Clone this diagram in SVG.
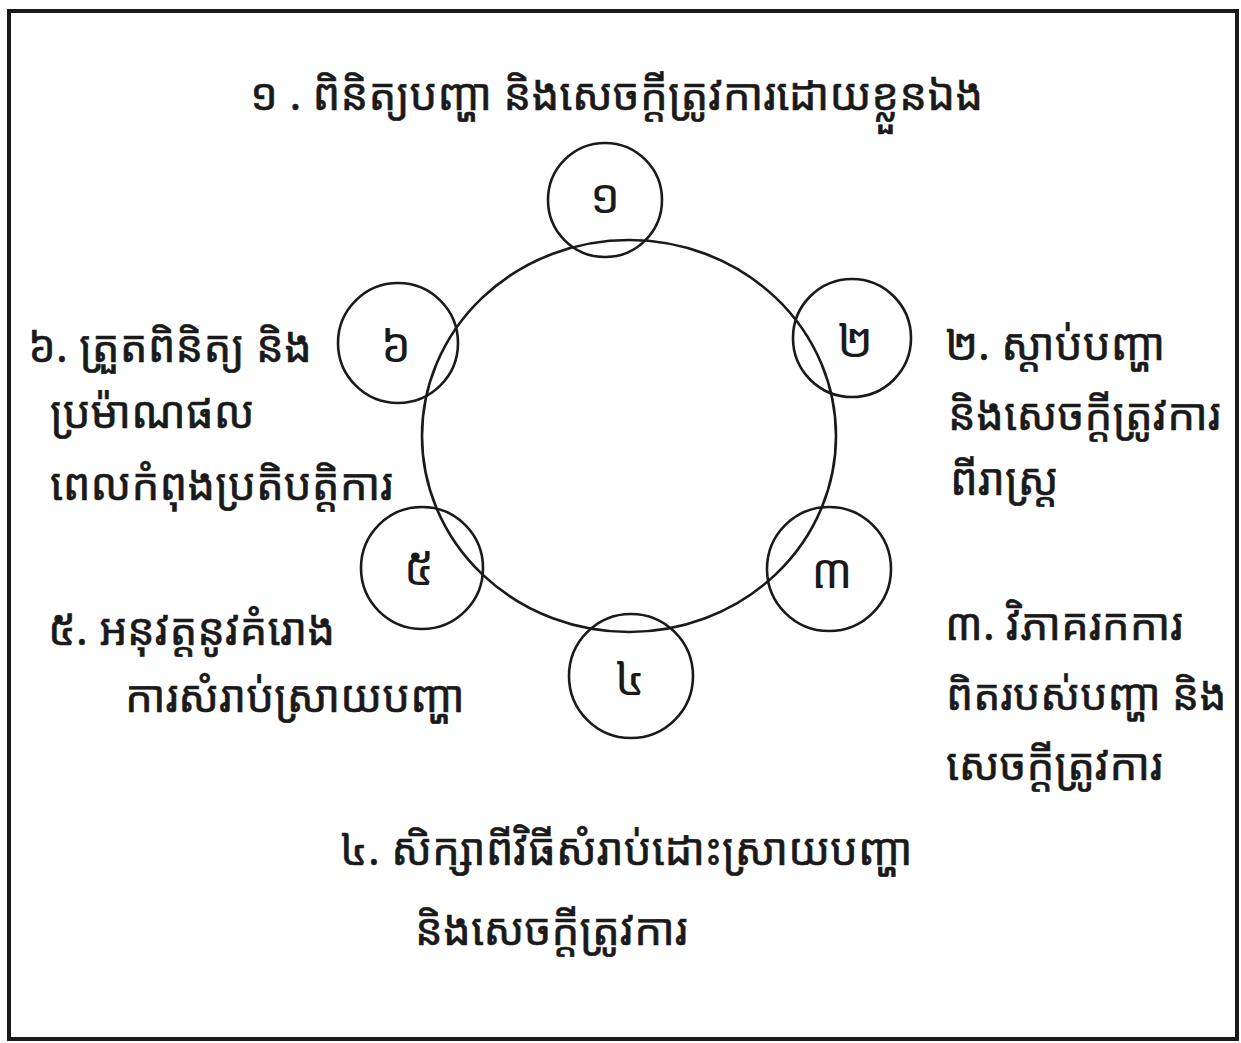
<svg xmlns="http://www.w3.org/2000/svg" width="1241" height="1043" viewBox="0 0 1241 1043">
<style>
.t{font-family:"Noto Sans Khmer","Khmer OS","Noto Serif Khmer","Noto Sans","DejaVu Sans",sans-serif;font-size:44px;fill:#1a1a1a;stroke:#1a1a1a;stroke-width:0.6}
.s{font-size:43px}
.n{font-family:"Noto Sans Khmer","Khmer OS","Noto Sans","DejaVu Sans",sans-serif;font-size:48px;fill:#1a1a1a;text-anchor:middle;dominant-baseline:central}
.c{fill:none;stroke:#1a1a1a;stroke-width:2.6}
</style>
<rect x="0" y="0" width="1241" height="1043" fill="#fff"/>
<rect x="9" y="11" width="1228" height="1028" fill="none" stroke="#1a1a1a" stroke-width="4"/>
<g id="ring"><ellipse class="c" cx="629" cy="436" rx="207" ry="196"/></g>
<g id="node1"><circle class="c" cx="605" cy="200" r="57"/><text class="n" x="605" y="194">១</text></g>
<g id="node2"><circle class="c" cx="852" cy="338" r="59"/><text class="n" x="855" y="338">២</text></g>
<g id="node3"><circle class="c" cx="829" cy="569" r="62"/><text class="n" x="832" y="569">៣</text></g>
<g id="node4"><circle class="c" cx="631" cy="676" r="62"/><text class="n" x="630" y="676">៤</text></g>
<g id="node5"><circle class="c" cx="422" cy="568" r="61"/><text class="n" x="419" y="566">៥</text></g>
<g id="node6"><circle class="c" cx="398" cy="343" r="60"/><text class="n" x="396" y="343">៦</text></g>
<g id="label1"><text class="t" x="250" y="110">១ . ពិនិត្យបញ្ហា និងសេចក្តីត្រូវការដោយខ្លួនឯង</text></g>
<g id="label2"><text class="t" x="945" y="360">២. ស្តាប់បញ្ហា</text><text class="t" x="948" y="430">និងសេចក្តីត្រូវការ</text><text class="t" x="950" y="495">ពីរាស្ត្រ</text></g>
<g id="label3"><text class="t" x="945" y="640">៣. វិភាគរកការ</text><text class="t s" x="946" y="710">ពិតរបស់បញ្ហា និង</text><text class="t" x="946" y="780">សេចក្តីត្រូវការ</text></g>
<g id="label4"><text class="t" x="340" y="865">៤. សិក្សាពីវិធីសំរាប់ដោះស្រាយបញ្ហា</text><text class="t" x="415" y="945">និងសេចក្តីត្រូវការ</text></g>
<g id="label5"><text class="t" x="48" y="645">៥. អនុវត្តនូវគំរោង</text><text class="t" x="125" y="712">ការសំរាប់ស្រាយបញ្ហា</text></g>
<g id="label6"><text class="t" x="28" y="362">៦. ត្រួតពិនិត្យ និង</text><text class="t" x="50" y="428">ប្រម៉ាណផល</text><text class="t" x="50" y="500">ពេលកំពុងប្រតិបត្តិការ</text></g>
</svg>
